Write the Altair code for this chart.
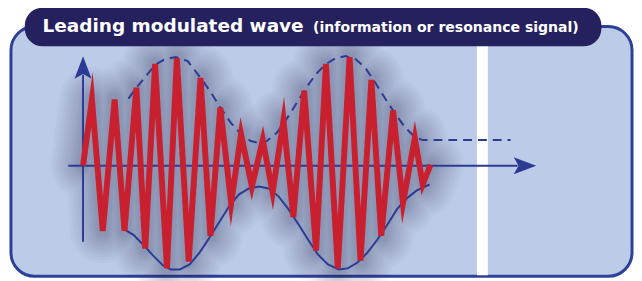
import altair as alt
import pandas as pd

# ---------------- data (time ticks / amplitude units) ----------------
carrier_t = [0, 9, 20, 32, 42, 54, 63, 73, 85, 95, 107, 119, 129, 139, 150, 160, 171,
             182, 192, 203, 213, 224, 236, 246, 258, 270, 281, 292, 302, 314, 324,
             336, 344, 352]
carrier_a = [0, 67, -66, 67, -66, 79, -84, 103, -104, 109, -97, 89, -71, 59, -38, 32, -21,
             26, -27, 46, -52, 76, -86, 103, -104, 110, -96, 87, -71, 56, -38,
             28, -19, 1]

upper_t = [46, 54, 73, 83, 94, 106, 119, 129, 139, 150, 161, 170, 178, 186, 196, 206,
           216, 226, 236, 246, 256, 266, 276, 286, 296, 306, 316, 326, 336, 344, 356, 433]
upper_a = [68, 79, 102, 108, 110, 106, 89, 75, 59, 43, 31, 25, 23, 25, 33, 47,
           63, 79, 93, 103, 109, 111, 108, 99, 84, 68, 53, 39, 29, 26, 26, 26]

lower_t = [41, 51, 61, 71, 81, 89, 98, 108, 118, 128, 138, 148, 158, 168, 178, 188,
           198, 208, 218, 228, 238, 248, 259, 268, 278, 288, 298, 308, 318, 328, 338, 351]
lower_a = [-64, -70, -80, -91, -101, -105, -105, -100, -88, -73, -57, -41, -29, -23, -21, -23,
           -31, -44, -59, -75, -90, -100, -105, -104, -98, -88, -75, -60, -44, -33, -25, -19]

axis_t = [-15, 440]      # horizontal axis extent
axis_a = [-77, 92]       # vertical axis extent
arrow_up = [0, 99]       # (t, a) of the vertical arrow head
arrow_right = [447, 0]   # (t, a) of the horizontal arrow head

title_main = "Leading modulated wave"
title_sub = "(information or resonance signal)"

# ---------------- styles ----------------
RED = "#c8202f"
BLUE = "#2d3a95"
NAVY = "#25215e"
PANEL = "#bccbe7"
PANEL_EDGE = "#2c3f99"

W, H = 634, 273
X = alt.Scale(domain=[-76, 558], nice=False, zero=False)
Y = alt.Scale(domain=[-115, 158], nice=False, zero=False)

carrier = pd.DataFrame({"t": carrier_t, "a": carrier_a, "i": range(len(carrier_t))})
upper = pd.DataFrame({"t": upper_t, "a": upper_a, "i": range(len(upper_t))})
lower = pd.DataFrame({"t": lower_t, "a": lower_a, "i": range(len(lower_t))})
one = pd.DataFrame({"k": [0]})

xe = alt.X("t:Q", scale=X, axis=None)
ye = alt.Y("a:Q", scale=Y, axis=None)

panel = alt.Chart(one).mark_rect(cornerRadius=24, fill=PANEL, stroke=PANEL_EDGE,
                                 strokeWidth=3).encode(
    x=alt.value(3), x2=alt.value(632), y=alt.value(17), y2=alt.value(270))

stripe = alt.Chart(one).mark_rect(color="white").encode(
    x=alt.value(475), x2=alt.value(486), y=alt.value(19), y2=alt.value(269))

pill = alt.Chart(one).mark_rect(cornerRadius=18, color=NAVY).encode(
    x=alt.value(17), x2=alt.value(601), y=alt.value(-2), y2=alt.value(37))

t1 = alt.Chart(one).mark_text(align="left", baseline="alphabetic", font="DejaVu Sans",
                              fontWeight="bold", fontSize=18.7, color="white").encode(
    x=alt.value(35), y=alt.value(23), text=alt.value(title_main))
t2 = alt.Chart(one).mark_text(align="left", baseline="alphabetic", font="DejaVu Sans",
                              fontWeight="bold", fontSize=14.2, color="white").encode(
    x=alt.value(309), y=alt.value(23), text=alt.value(title_sub))

shadows = []
for w in [66, 60, 54, 48, 43, 38, 33, 28, 24, 20, 16, 12]:
    shadows.append(alt.Chart(carrier).mark_line(color="#26324f", strokeWidth=w, opacity=0.028,
                                                strokeJoin="round", strokeCap="round").encode(
        x=xe, y=ye, order="i:Q"))

h_axis = alt.Chart(pd.DataFrame({"t": [axis_t[0]], "t2": [axis_t[1]], "a": [0]})).mark_rule(
    color=BLUE, strokeWidth=2).encode(x=xe, x2="t2:Q", y=ye)
v_axis = alt.Chart(pd.DataFrame({"t": [0], "a": [axis_a[0]], "a2": [axis_a[1]]})).mark_rule(
    color=BLUE, strokeWidth=2).encode(x=xe, y=ye, y2="a2:Q")

up_head = alt.Chart(pd.DataFrame({"t": [arrow_up[0]], "a": [arrow_up[1]]})).mark_point(
    filled=True, shape="M0,-1L0.72,0.9L0,0.5L-0.72,0.9Z", size=576, color=BLUE,
    opacity=1, strokeWidth=0).encode(x=xe, y=ye)
right_head = alt.Chart(pd.DataFrame({"t": [arrow_right[0]], "a": [arrow_right[1]]})).mark_point(
    filled=True, shape="M1,0L-0.9,-0.72L-0.5,0L-0.9,0.72Z", size=576, color=BLUE,
    opacity=1, strokeWidth=0).encode(x=xe, y=ye)

upper_line = alt.Chart(upper).mark_line(color=BLUE, strokeWidth=2, strokeDash=[9, 6]).encode(
    x=xe, y=ye, order="i:Q")
lower_line = alt.Chart(lower).mark_line(color=BLUE, strokeWidth=2).encode(
    x=xe, y=ye, order="i:Q")
wave = alt.Chart(carrier).mark_line(color=RED, strokeWidth=6, strokeJoin="miter",
                                    strokeMiterLimit=10).encode(x=xe, y=ye, order="i:Q")

chart = alt.layer(panel, stripe, *shadows, h_axis, v_axis, right_head, up_head,
                  upper_line, lower_line, wave, pill, t1, t2).properties(
    width=W, height=H, padding=0, autosize=alt.AutoSizeParams(type="none"),
    background="white"
).configure_view(stroke=None)

chart.save("out.html", embed_options={"renderer": "svg", "actions": False})
